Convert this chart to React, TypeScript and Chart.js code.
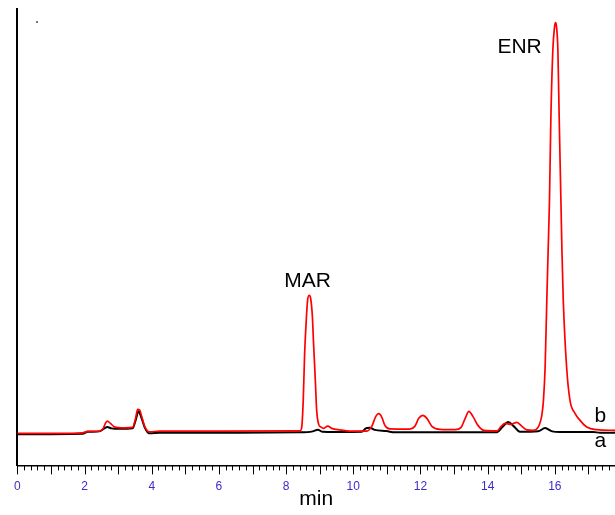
import React, { useEffect, useRef } from "react";
import { Chart, registerables } from "chart.js";

Chart.register(...registerables);

// Chromatogram b (red): retention time (min) and signal
const redTime = [
  0, 1.25, 1.94, 2.09, 2.44, 2.56, 2.62, 2.68, 2.77, 2.89, 3.19, 3.43, 3.52, 3.58, 3.64, 3.7, 3.79, 3.93,
  4.23, 6.02, 8.41, 8.46, 8.51, 8.55, 8.6, 8.64, 8.69, 8.73, 8.78, 8.82, 8.87, 8.91, 8.97, 9.03, 9.12,
  9.24, 9.36, 9.6, 9.9, 10.4, 10.55, 10.67, 10.76, 10.85, 10.94, 11.09, 11.68, 11.83, 11.95, 12.07,
  12.19, 12.34, 12.58, 13.03, 13.21, 13.33, 13.44, 13.56, 13.71, 13.89, 14.28, 14.4, 14.52, 14.69,
  14.87, 15.02, 15.17, 15.35, 15.5, 15.58, 15.62, 15.66, 15.71, 15.76, 15.8, 15.84, 15.88, 15.94,
  15.99, 16.02, 16.05, 16.09, 16.13, 16.18, 16.21, 16.25, 16.35, 16.45, 16.6, 16.75, 16.95, 17.25, 17.79,
];
const redSignal = [
  32, 32, 32.5, 34, 34.3, 37, 42, 44.3, 42, 38.5, 37.5, 38, 47, 56, 55.5, 49, 39, 33.5,
  34.3, 34.3, 34.5, 37, 65, 110, 145, 165, 170, 167, 150, 120, 85, 55, 41, 38.5, 37,
  39.3, 37, 35.5, 34.3, 34.3, 39, 49, 51.7, 48, 40, 36.5, 36.3, 39, 47, 50,
  47, 39, 36, 35.7, 38, 47, 54, 49, 40, 35, 34.5, 39, 42, 41,
  43, 39, 35.5, 35, 38, 45, 52, 65, 98, 165, 215, 265, 345, 415,
  438, 442.3, 438, 415, 345, 265, 215, 165, 98, 65, 52, 45, 38.3, 35.7, 35,
];

// Chromatogram a (black)
const blackTime = [
  0, 1.94, 2.09, 2.44, 2.59, 2.68, 2.8, 3.04, 3.43, 3.52, 3.61, 3.7, 3.79, 3.93, 4.23, 6.32, 8.41,
  8.79, 8.94, 9.09, 9.45, 10.25, 10.37, 10.49, 10.64, 10.99, 11.24, 14.28, 14.43, 14.61, 14.78,
  14.96, 15.5, 15.71, 15.92, 16.15, 17.14, 17.35, 17.79,
];
const blackSignal = [
  31, 31.5, 33.5, 34, 37, 38.3, 37, 36.5, 37, 45, 54, 47, 38, 32, 32.5, 32.7, 33,
  34, 35.7, 33.5, 33.3, 33.5, 37, 37.7, 35.5, 34.3, 33, 33, 38, 43.3, 39,
  33.5, 34, 37.3, 34, 33.3, 33.3, 32.7, 32.7,
];

// Axis settings
const xMin = 0;
const xMax = 17.79;
const yMin = 0;
const yMax = 456;
const xLabelStep = 2;
const minorStep = 0.2;

// Text labels in data coordinates
const peakLabels = ["MAR", "ENR", "b", "a"];
const peakLabelTime = [8.64, 14.95, 17.35, 17.35];
const peakLabelSignal = [178, 411.7, 43.3, 18];

const FONT = "'Liberation Sans', Arial, sans-serif";

const tickMarksPlugin = {
  id: "tickMarks",
  afterDraw(chart: any) {
    const { ctx, chartArea, scales } = chart;
    const xs = scales.x;
    ctx.save();
    ctx.strokeStyle = "#000";
    ctx.lineWidth = 1;
    const n = Math.floor((xMax - xMin) / minorStep + 1e-6);
    for (let i = 0; i <= n; i++) {
      const v = xMin + i * minorStep;
      const px = Math.round(xs.getPixelForValue(v)) + 0.5;
      const len = i % 5 === 0 ? 9 : 5;
      ctx.beginPath();
      ctx.moveTo(px, chartArea.bottom);
      ctx.lineTo(px, chartArea.bottom + len);
      ctx.stroke();
    }
    ctx.restore();
  },
};

const textPlugin = {
  id: "peakText",
  afterDraw(chart: any) {
    const { ctx, scales } = chart;
    ctx.save();
    ctx.fillStyle = "#000";
    ctx.font = `21px ${FONT}`;
    ctx.textAlign = "center";
    ctx.textBaseline = "alphabetic";
    for (let i = 0; i < peakLabels.length; i++) {
      const x = scales.x.getPixelForValue(peakLabelTime[i]);
      const y = scales.y.getPixelForValue(peakLabelSignal[i]);
      ctx.fillText(peakLabels[i], x, y);
    }
    // small speck near top-left
    const dx = scales.x.getPixelForValue(0.58);
    const dy = scales.y.getPixelForValue(443);
    ctx.fillStyle = "#777";
    ctx.fillRect(Math.round(dx) - 1, Math.round(dy) - 1, 2, 2);
    ctx.restore();
  },
};

export default function App() {
  const ref = useRef<HTMLCanvasElement | null>(null);

  useEffect(() => {
    if (!ref.current) return;
    const chart = new Chart(ref.current, {
      type: "line",
      data: {
        datasets: [
          {
            label: "b",
            data: redTime.map((t, i) => ({ x: t, y: redSignal[i] })),
            borderColor: "#ff0000",
            borderWidth: 1.7,
            pointRadius: 0,
            cubicInterpolationMode: "monotone",
            order: 0,
          },
          {
            label: "a",
            data: blackTime.map((t, i) => ({ x: t, y: blackSignal[i] })),
            borderColor: "#000000",
            borderWidth: 2,
            pointRadius: 0,
            cubicInterpolationMode: "monotone",
            order: 1,
          },
        ],
      },
      options: {
        animation: false,
        responsive: false,
        maintainAspectRatio: false,
        events: [],
        layout: { padding: { left: 17, top: 9, right: 0, bottom: 0 } },
        plugins: { legend: { display: false }, tooltip: { enabled: false } },
        scales: {
          x: {
            type: "linear",
            min: xMin,
            max: xMax,
            grid: { display: false, drawTicks: false },
            border: { display: true, color: "#000", width: 1.5 },
            ticks: {
              stepSize: xLabelStep,
              includeBounds: false,
              autoSkip: false,
              maxRotation: 0,
              color: "#3d2bc8",
              font: { family: FONT, size: 12 },
              padding: 14,
            },
            title: {
              display: true,
              text: "min",
              color: "#000",
              font: { family: FONT, size: 21 },
              padding: { top: -21, bottom: 3 },
            },
          },
          y: {
            type: "linear",
            min: yMin,
            max: yMax,
            grid: { display: false, drawTicks: false },
            border: { display: true, color: "#000", width: 2 },
            ticks: { display: false },
          },
        },
      },
      plugins: [tickMarksPlugin, textPlugin],
    });
    return () => chart.destroy();
  }, []);

  return (
    <div style={{ position: "absolute", left: 0, top: 0, width: 615, height: 515 }}>
      <canvas ref={ref} width={615} height={515} style={{ width: 615, height: 515 }} />
    </div>
  );
}
